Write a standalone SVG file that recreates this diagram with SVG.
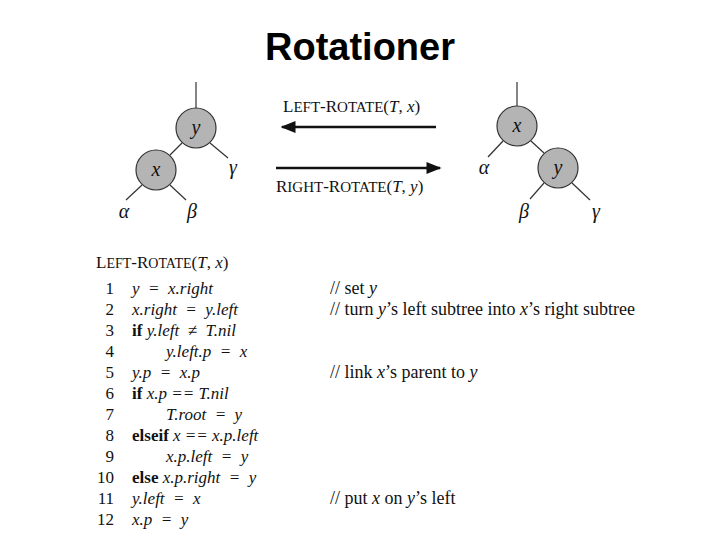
<svg xmlns="http://www.w3.org/2000/svg" width="720" height="540" viewBox="0 0 720 540">
<defs>
<style>
.t{font-family:"Liberation Serif",serif;font-size:17px;fill:#111}
.c{font-size:18px}
.i{font-style:italic}
.b{font-weight:bold}
.g{font-family:"Liberation Serif",serif;font-style:italic;font-size:20px;fill:#111}
.n{fill:#b4b4b4;stroke:#333;stroke-width:1.2}
.e{stroke:#333;stroke-width:1.2}
.num{font-family:"Liberation Serif",serif;font-size:17px;fill:#111;text-anchor:end}
</style>
<marker id="ah" viewBox="0 0 10 10" refX="9" refY="5" markerWidth="8" markerHeight="6" orient="auto"><path d="M0,1 L10,5 L0,9 z" fill="#111"/></marker>
</defs>
<rect width="720" height="540" fill="#fff"/>
<text x="360" y="60" text-anchor="middle" font-family="Liberation Sans,sans-serif" font-weight="bold" font-size="38" fill="#000">Rotationer</text>
<g id="connectors">
<line class="e" x1="196" y1="82" x2="196" y2="108"/>
<line class="e" x1="182" y1="143" x2="170" y2="155"/>
<line class="e" x1="210" y1="143" x2="228" y2="158"/>
<line class="e" x1="142" y1="185" x2="126" y2="200"/>
<line class="e" x1="170" y1="185" x2="186" y2="200"/>
<line class="e" x1="517" y1="82" x2="517" y2="106"/>
<line class="e" x1="503" y1="141" x2="488" y2="157"/>
<line class="e" x1="531" y1="141" x2="544" y2="153"/>
<line class="e" x1="544" y1="183" x2="530" y2="199"/>
<line class="e" x1="572" y1="183" x2="590" y2="200"/>
<line stroke="#111" stroke-width="2.5" x1="436" y1="127" x2="282" y2="127" marker-end="url(#ah)"/>
<line stroke="#111" stroke-width="2.5" x1="276" y1="168" x2="440" y2="168" marker-end="url(#ah)"/>
</g>
<g id="left-y"><circle class="n" cx="196" cy="128" r="20"/><text class="g" x="196" y="134" text-anchor="middle">y</text></g>
<g id="left-x"><circle class="n" cx="156" cy="170" r="20"/><text class="g" x="156" y="176" text-anchor="middle">x</text></g>
<g id="right-x"><circle class="n" cx="517" cy="126" r="20"/><text class="g" x="517" y="132" text-anchor="middle">x</text></g>
<g id="right-y"><circle class="n" cx="558" cy="168" r="20"/><text class="g" x="558" y="174" text-anchor="middle">y</text></g>
<g id="leaves">
<text class="g" x="233" y="174" text-anchor="middle">γ</text>
<text class="g" x="124" y="218" text-anchor="middle">α</text>
<text class="g" x="192" y="218" text-anchor="middle">β</text>
<text class="g" x="484" y="174" text-anchor="middle">α</text>
<text class="g" x="524" y="218" text-anchor="middle">β</text>
<text class="g" x="596" y="218" text-anchor="middle">γ</text>
</g>
<g id="labels">
<text class="t" x="283" y="112" font-size="20">L<tspan font-size="15">EFT</tspan>-R<tspan font-size="15">OTATE</tspan>(<tspan class="i">T</tspan>, <tspan class="i">x</tspan>)</text>
<text class="t" x="276" y="192" font-size="20">R<tspan font-size="15">IGHT</tspan>-R<tspan font-size="15">OTATE</tspan>(<tspan class="i">T</tspan>, <tspan class="i">y</tspan>)</text>
</g>
<g id="code">
<text class="t" x="96" y="268" font-size="19">L<tspan font-size="14">EFT</tspan>-R<tspan font-size="14">OTATE</tspan>(<tspan class="i">T</tspan>, <tspan class="i">x</tspan>)</text>
<text class="num" x="114" y="294">1</text><text class="num" x="114" y="315">2</text><text class="num" x="114" y="336">3</text><text class="num" x="114" y="357">4</text><text class="num" x="114" y="378">5</text><text class="num" x="114" y="399">6</text><text class="num" x="114" y="420">7</text><text class="num" x="114" y="441">8</text><text class="num" x="114" y="462">9</text><text class="num" x="114" y="483">10</text><text class="num" x="114" y="504">11</text><text class="num" x="114" y="525">12</text>
<text class="t i" x="132" y="294" xml:space="preserve">y  =  x.right</text>
<text class="t i" x="132" y="315" xml:space="preserve">x.right  =  y.left</text>
<text class="t" x="132" y="336" xml:space="preserve"><tspan class="b">if</tspan> <tspan class="i">y.left  ≠  T.nil</tspan></text>
<text class="t i" x="166" y="357" xml:space="preserve">y.left.p  =  x</text>
<text class="t i" x="132" y="378" xml:space="preserve">y.p  =  x.p</text>
<text class="t" x="132" y="399" xml:space="preserve"><tspan class="b">if</tspan> <tspan class="i">x.p == T.nil</tspan></text>
<text class="t i" x="166" y="420" xml:space="preserve">T.root  =  y</text>
<text class="t" x="132" y="441" xml:space="preserve"><tspan class="b">elseif</tspan> <tspan class="i">x == x.p.left</tspan></text>
<text class="t i" x="166" y="462" xml:space="preserve">x.p.left  =  y</text>
<text class="t" x="132" y="483" xml:space="preserve"><tspan class="b">else</tspan> <tspan class="i">x.p.right  =  y</tspan></text>
<text class="t i" x="132" y="504" xml:space="preserve">y.left  =  x</text>
<text class="t i" x="132" y="525" xml:space="preserve">x.p  =  y</text>
<text class="t c" x="330" y="294">// set <tspan class="i">y</tspan></text>
<text class="t c" x="330" y="315">// turn <tspan class="i">y</tspan>’s left subtree into <tspan class="i">x</tspan>’s right subtree</text>
<text class="t c" x="330" y="378">// link <tspan class="i">x</tspan>’s parent to <tspan class="i">y</tspan></text>
<text class="t c" x="330" y="504">// put <tspan class="i">x</tspan> on <tspan class="i">y</tspan>’s left</text>
</g>
</svg>
